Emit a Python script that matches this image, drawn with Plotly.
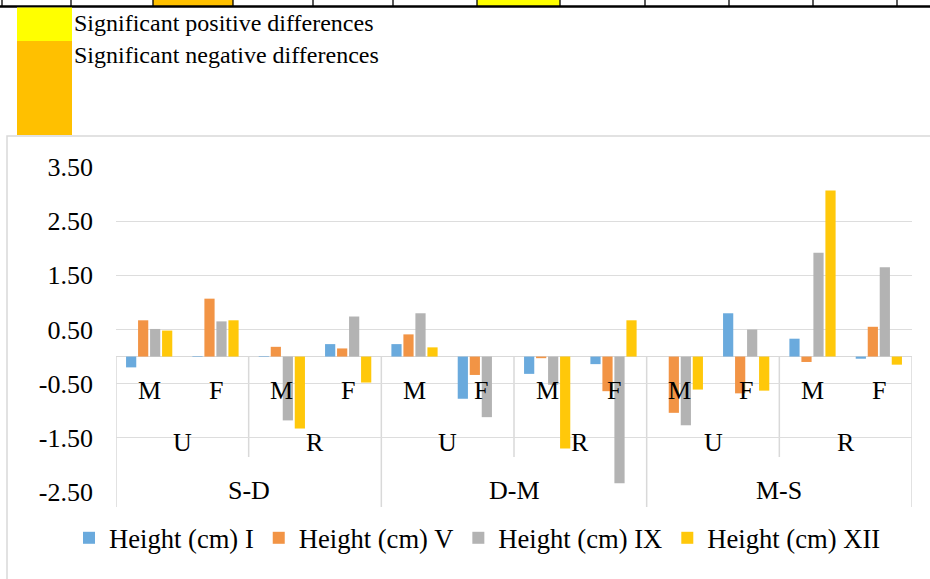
import plotly.graph_objects as go

# ---- data ----
comparisons = ["S-D", "D-M", "M-S"]
areas = ["U", "R"]
sexes = ["M", "F"]
series_names = ["Height (cm) I", "Height (cm) V", "Height (cm) IX", "Height (cm) XII"]
height_I = [-0.20, 0.01, 0.01, 0.23, 0.23, -0.78, -0.32, -0.14, 0.00, 0.80, 0.33, -0.04]
height_V = [0.67, 1.07, 0.18, 0.15, 0.41, -0.34, -0.03, -0.64, -1.04, -0.68, -0.10, 0.55]
height_IX = [0.51, 0.65, -1.18, 0.74, 0.80, -1.12, -0.52, -2.34, -1.27, 0.50, 1.92, 1.65]
height_XII = [0.48, 0.67, -1.33, -0.48, 0.17, 0.00, -1.70, 0.67, -0.61, -0.63, 3.07, -0.15]
series_values = [height_I, height_V, height_IX, height_XII]
tick_values = [-2.5, -1.5, -0.5, 0.5, 1.5, 2.5, 3.5]
tick_labels = ["-2.50", "-1.50", "-0.50", "0.50", "1.50", "2.50", "3.50"]
colors = ["#6AAADD", "#F29445", "#B3B3B3", "#FFC80A"]
legend_labels = ["Significant positive differences", "Significant negative differences"]

W, H = 930, 579
FONT = "Liberation Serif"


def py(px):
    return (H - px) / H


def pxx(px):
    return px / W


n = len(comparisons) * len(areas) * len(sexes)
xs = list(range(n))

fig = go.Figure()
for name, vals, c in zip(series_names, series_values, colors):
    fig.add_trace(go.Bar(x=xs, y=vals, name=name, marker=dict(color=c, line=dict(width=0)),
                         hoverinfo="skip"))

y_top_px, y_bot_px = 167, 492
ymin, ymax = -2.5, 3.5
dom = [py(y_bot_px), py(y_top_px)]


def yzero_paper():
    return dom[0] + (0 - ymin) / (ymax - ymin) * (dom[1] - dom[0])


shapes = []
# top table fragment
cell_x = [2, 71, 153, 233, 313, 393, 477, 560, 645, 729, 813, 897]
shapes.append(dict(type="rect", xref="paper", yref="paper", x0=pxx(153), x1=pxx(233), y0=py(6), y1=py(-2),
                   fillcolor="#FFC000", line=dict(width=0), layer="below"))
shapes.append(dict(type="rect", xref="paper", yref="paper", x0=pxx(477), x1=pxx(560), y0=py(6), y1=py(-2),
                   fillcolor="#FFFF00", line=dict(width=0), layer="below"))
for cx in cell_x:
    shapes.append(dict(type="line", xref="paper", yref="paper", x0=pxx(cx), x1=pxx(cx), y0=py(6), y1=py(-2),
                       line=dict(color="black", width=1.3)))
shapes.append(dict(type="line", xref="paper", yref="paper", x0=0, x1=1, y0=py(6.5), y1=py(6.5),
                   line=dict(color="black", width=2.5)))
# significance swatches
shapes.append(dict(type="rect", xref="paper", yref="paper", x0=pxx(17), x1=pxx(72), y0=py(41), y1=py(7.5),
                   fillcolor="#FFFF00", line=dict(width=0)))
shapes.append(dict(type="rect", xref="paper", yref="paper", x0=pxx(17), x1=pxx(72), y0=py(135), y1=py(41),
                   fillcolor="#FFC000", line=dict(width=0)))
# chart frame
shapes.append(dict(type="rect", xref="paper", yref="paper", x0=pxx(7), x1=1.02, y0=-0.02, y1=py(136),
                   fillcolor="rgba(0,0,0,0)", line=dict(color="#D9D9D9", width=1.5), layer="below"))
# category separators
z = yzero_paper()
for i in range(0, n + 1, 2):
    bottom = 507 if i % 4 == 0 else 457
    shapes.append(dict(type="line", xref="x", yref="paper", x0=i - 0.5, x1=i - 0.5, y0=z, y1=py(bottom),
                       line=dict(color="#D9D9D9", width=1.5), layer="below"))

annotations = []
annotations.append(dict(text=legend_labels[0], xref="paper", yref="paper", x=pxx(72), y=py(23),
                        xanchor="left", yanchor="middle", showarrow=False,
                        font=dict(family=FONT, size=24, color="black")))
annotations.append(dict(text=legend_labels[1], xref="paper", yref="paper", x=pxx(72), y=py(55),
                        xanchor="left", yanchor="middle", showarrow=False,
                        font=dict(family=FONT, size=24, color="black")))
lab_font = dict(family=FONT, size=26, color="black")
k = 0
for ci, comp in enumerate(comparisons):
    for ai, ar in enumerate(areas):
        for si, sx in enumerate(sexes):
            annotations.append(dict(text=sx, x=k, y=-0.62, xref="x", yref="y", showarrow=False,
                                    font=lab_font, yanchor="middle"))
            k += 1
        annotations.append(dict(text=ar, x=ci * 4 + ai * 2 + 0.5, y=-1.58, xref="x", yref="y",
                                showarrow=False, font=lab_font, yanchor="middle"))
    annotations.append(dict(text=comp, x=ci * 4 + 1.5, y=-2.48, xref="x", yref="y", showarrow=False,
                            font=lab_font, yanchor="middle"))

fig.update_layout(
    width=W, height=H,
    margin=dict(l=0, r=0, t=0, b=0, pad=0, autoexpand=False),
    paper_bgcolor="white", plot_bgcolor="white",
    barmode="group", bargap=0.276, bargroupgap=0.15,
    font=dict(family=FONT, size=26, color="black"),
    hovermode=False,
    xaxis=dict(domain=[pxx(116), pxx(912)], range=[-0.5, n - 0.5], showticklabels=False,
               showgrid=False, zeroline=False, showline=False, ticks="", automargin=False),
    yaxis=dict(domain=dom, range=[ymin - 0.003, ymax + 0.003], tickmode="array",
               tickvals=tick_values, ticktext=tick_labels,
               showgrid=True, gridcolor="#DDDDDD", gridwidth=1.5, zeroline=True, zerolinecolor="#D9D9D9",
               zerolinewidth=1.5, showline=False, ticks="", ticklabelstandoff=22, automargin=False,
               tickfont=dict(family=FONT, size=26, color="black")),
    legend=dict(orientation="h", x=pxx(69), y=py(538), xanchor="left", yanchor="middle",
                font=dict(family=FONT, size=26.6, color="black"), bgcolor="rgba(0,0,0,0)",
                traceorder="normal"),
    shapes=shapes, annotations=annotations,
)

fig.write_html("out.html", config={"displayModeBar": False, "staticPlot": True},
               post_script="document.body.style.margin='0';document.body.style.overflow='hidden';")
